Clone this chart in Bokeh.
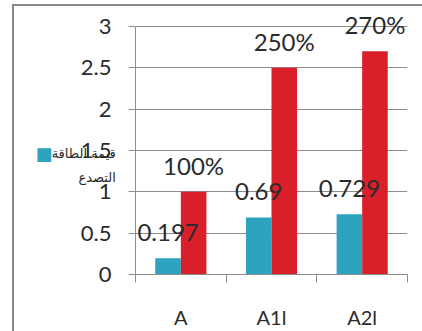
from bokeh.plotting import figure
from bokeh.models import (ColumnDataSource, Range1d, FixedTicker, NumeralTickFormatter,
                          LabelSet, LinearAxis)
from bokeh.core.properties import value
from bokeh.transform import dodge
from bokeh.embed import file_html
from bokeh.resources import INLINE

# --- data ---
categories = ["A", "A1l", "A2l"]
energy_values = [0.197, 0.69, 0.729]       # teal series
ratio_values = [1.0, 2.5, 2.7]             # red series (shown as percent)
series_name = ["قيمة الطاقة", "التصدع"]
y_ticks = [0, 0.5, 1, 1.5, 2, 2.5, 3]

TEAL = "#2EA3C0"
RED = "#D9202A"
GRID = "#8C8C8C"
FRAME = "#8A8A8A"
TEXT = "#2B2B2B"
FONT = "Lato"
NBSP = "\u00a0"

n = len(categories)
centers = [i + 0.5 for i in range(n)]
bounds = list(range(n + 1))
bar_w = 0.282

src = ColumnDataSource(dict(
    x=centers,
    energy=energy_values,
    ratio=ratio_values,
    energy_txt=[f"{v:g}" for v in energy_values],
    ratio_txt=[f"{v * 100:.0f}%" for v in ratio_values],
))

p = figure(width=422, height=331, output_backend="svg", toolbar_location=None,
           x_range=Range1d(0, n), y_range=Range1d(0, 3.23),
           min_border_left=135, min_border_right=15,
           min_border_top=7, min_border_bottom=57)
p.outline_line_color = None
p.background_fill_color = "white"
p.border_fill_alpha = 0
# thin grey border of the chart area (left and top edges)
p.styles = {
    "background-color": "white",
    "background-image": f"linear-gradient({FRAME},{FRAME}), linear-gradient({FRAME},{FRAME})",
    "background-size": "2px 340px, 420px 2px",
    "background-position": "12px 4px, 12px 4px",
    "background-repeat": "no-repeat",
}

p.vbar(x=dodge("x", -bar_w / 2), top="energy", width=bar_w, source=src,
       fill_color=TEAL, line_color=None)
p.vbar(x=dodge("x", bar_w / 2), top="ratio", width=bar_w, source=src,
       fill_color=RED, line_color=None)

# value labels above the bars
for field, txt, off in (("energy", "energy_txt", -bar_w / 2), ("ratio", "ratio_txt", bar_w / 2)):
    p.add_layout(LabelSet(x=dodge("x", off), y=field, text=txt, source=src,
                          text_align="center", text_baseline="alphabetic", y_offset=17,
                          text_font=value(FONT), text_font_size="24px", text_color=TEXT))

# axes
p.xgrid.visible = False
p.ygrid.grid_line_color = GRID
p.ygrid.ticker = FixedTicker(ticks=y_ticks)

yax = p.yaxis[0]
yax.ticker = FixedTicker(ticks=y_ticks)
yax.bounds = (0, 3)
yax.formatter = NumeralTickFormatter(format="0.[0]")
yax.axis_line_color = GRID
yax.major_tick_line_color = GRID
yax.major_tick_out = 7
yax.major_tick_in = 0
yax.minor_tick_line_color = None
yax.major_label_standoff = 17
yax.major_label_text_font = FONT
yax.major_label_text_font_size = "22px"
yax.major_label_text_color = TEXT
# series key text, laid over the tick-label column like a legend entry;
# two spacer lines push the wrapped name down next to the swatch
yax.axis_label = "\n".join([NBSP, NBSP, series_name[0], NBSP * 4 + series_name[1]])
yax.axis_label_orientation = "horizontal"
yax.axis_label_standoff = -38
yax.axis_label_text_font = "DejaVu Sans"
yax.axis_label_text_font_size = "13px"
yax.axis_label_text_font_style = "normal"
yax.axis_label_text_color = TEXT
yax.axis_label_text_line_height = 1.6

# teal key swatch for the series
key = LinearAxis(ticker=FixedTicker(ticks=[]), axis_line_color=None,
                 major_tick_line_color=None, minor_tick_line_color=None,
                 major_label_text_font_size="0px", major_label_standoff=0,
                 major_tick_out=0, axis_label=NBSP + "\n■",
                 axis_label_orientation="horizontal", axis_label_standoff=-4,
                 axis_label_text_font="DejaVu Sans", axis_label_text_font_size="18px",
                 axis_label_text_font_style="normal", axis_label_text_color=TEAL,
                 axis_label_text_line_height=1.22)
p.add_layout(key, "left")

xax = p.xaxis[0]
xax.ticker = FixedTicker(ticks=centers, minor_ticks=bounds)
xax.major_label_overrides = {c: lab for c, lab in zip(centers, categories)}
xax.axis_line_color = GRID
xax.major_tick_line_color = None
xax.minor_tick_line_color = GRID
xax.minor_tick_out = 8
xax.minor_tick_in = 0
xax.major_label_standoff = 22
xax.major_label_text_font = FONT
xax.major_label_text_font_size = "20px"
xax.major_label_text_color = TEXT

open("out.html", "w").write(file_html(p, INLINE))
